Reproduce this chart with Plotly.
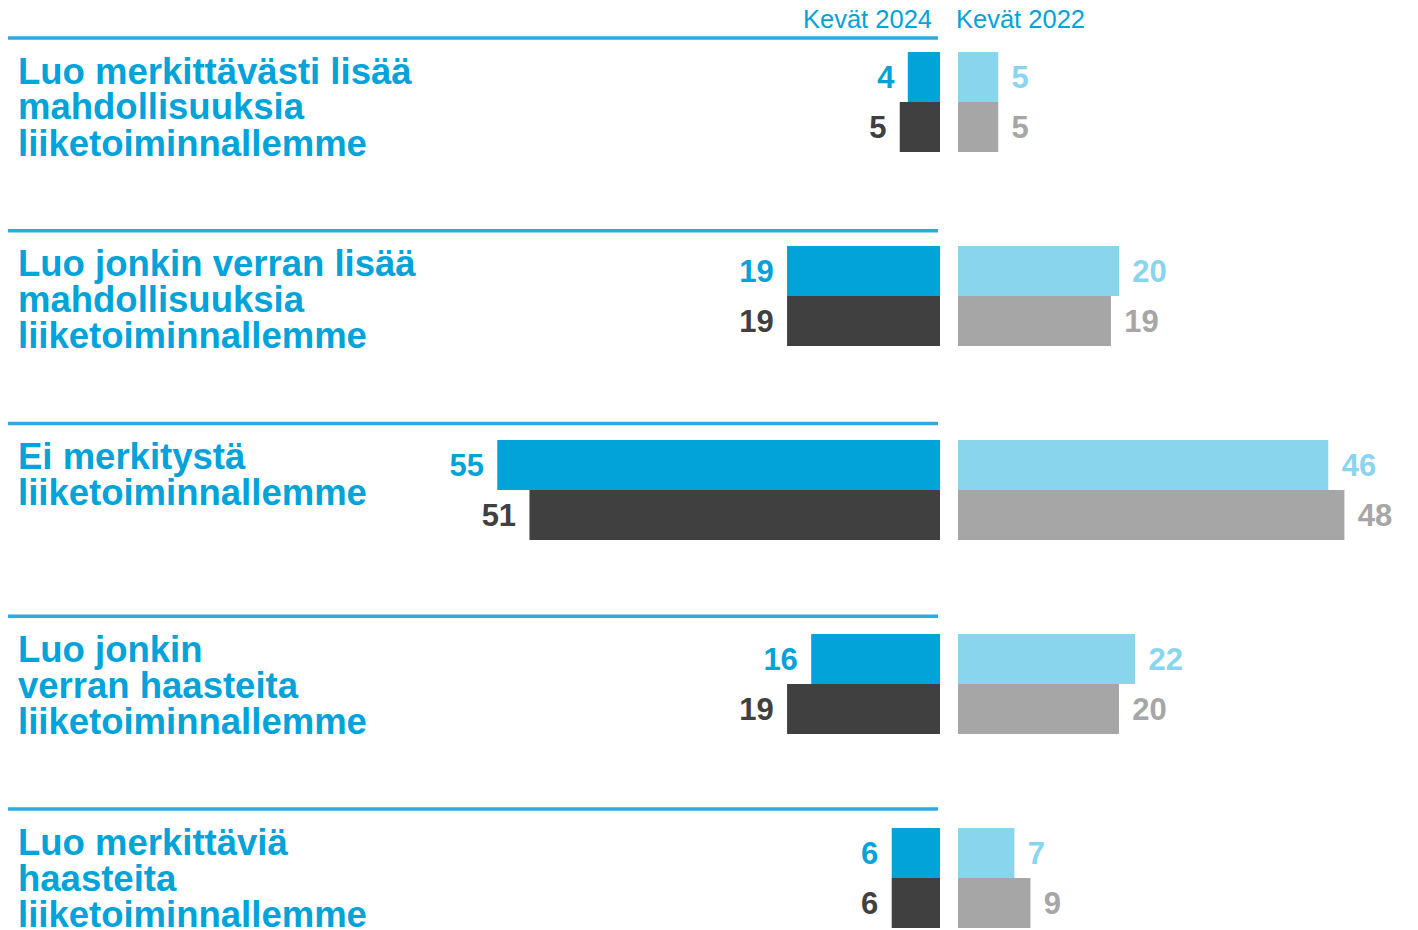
import plotly.graph_objects as go

# ---- data ----
categories = [
    "Luo merkittävästi lisää\nmahdollisuuksia\nliiketoiminnallemme",
    "Luo jonkin verran lisää\nmahdollisuuksia\nliiketoiminnallemme",
    "Ei merkitystä\nliiketoiminnallemme",
    "Luo jonkin\nverran haasteita\nliiketoiminnallemme",
    "Luo merkittäviä\nhaasteita\nliiketoiminnallemme",
]
panel_titles = ["Kevät 2024", "Kevät 2022"]
k2024_a = [4, 19, 55, 16, 6]     # blue
k2024_b = [5, 19, 51, 19, 6]     # dark grey
k2022_a = [5, 20, 46, 22, 7]     # light blue
k2022_b = [5, 19, 48, 20, 9]     # light grey

# ---- style ----
OFF = 8                      # page body margin
W, H = 1418 - OFF, 930 - OFF
BLUE = "#02A3D9"
DARK = "#404040"
LBLUE = "#8AD5EE"
LGREY = "#A6A6A6"
LINE = "#2FAAE0"
PX_PER_UNIT = 8.05
LEFT_ZERO = 940 - OFF
RIGHT_ZERO = 958 - OFF
GROUP_CENTER0 = 102 - OFF
GROUP_STEP = 194
LINE0 = 38 - OFF
LINE_STEP = 192.75

idx = list(range(len(categories)))
ymin = -GROUP_CENTER0 / GROUP_STEP
ymax = (H - GROUP_CENTER0) / GROUP_STEP

FONT = "Liberation Sans, Arial, sans-serif"
val_font = dict(family=FONT, size=31, weight="bold")

fig = go.Figure()

def bar(vals, color, xa, ya, left):
    tmpl = "%{x}\u2004" if left else "\u2004%{x}"
    return go.Bar(
        x=vals, y=idx, orientation="h", xaxis=xa, yaxis=ya,
        marker=dict(color=color, line=dict(width=0)),
        text=vals, texttemplate=tmpl, textposition="outside",
        textfont=dict(color=color, **val_font),
        cliponaxis=False, constraintext="none", showlegend=False,
        hoverinfo="skip",
    )

fig.add_trace(bar(k2024_a, BLUE, "x", "y", True))
fig.add_trace(bar(k2024_b, DARK, "x", "y", True))
fig.add_trace(bar(k2022_a, LBLUE, "x2", "y2", False))
fig.add_trace(bar(k2022_b, LGREY, "x2", "y2", False))

yax = dict(range=[ymax, ymin], visible=False, fixedrange=True)
fig.update_layout(
    width=W, height=H,
    margin=dict(l=0, r=0, t=0, b=0),
    paper_bgcolor="white", plot_bgcolor="white",
    barmode="group", bargap=1 - 100 / GROUP_STEP, bargroupgap=0,
    xaxis=dict(domain=[0, LEFT_ZERO / W], range=[LEFT_ZERO / PX_PER_UNIT, 0],
               visible=False, fixedrange=True, anchor="y"),
    xaxis2=dict(domain=[RIGHT_ZERO / W, 1], range=[0, (W - RIGHT_ZERO) / PX_PER_UNIT],
                visible=False, fixedrange=True, anchor="y2"),
    yaxis=dict(**yax, anchor="x"),
    yaxis2=dict(**yax, anchor="x2"),
)

# separator lines above each group
shapes = []
for i in idx:
    yp = 1 - (LINE0 + LINE_STEP * i) / H
    shapes.append(dict(type="line", xref="paper", yref="paper",
                       x0=0, x1=(938 - OFF) / W, y0=yp, y1=yp,
                       line=dict(color=LINE, width=3.5)))
fig.update_layout(shapes=shapes)

# category labels, one annotation per line (tight line spacing)
anns = []
lab_font = dict(family=FONT, size=36.5, color=BLUE, weight="bold")
for i, cat in enumerate(categories):
    for k, line in enumerate(cat.split("\n")):
        yp = 1 - (LINE0 + LINE_STEP * i + 33 + 36 * k) / H
        anns.append(dict(text=line, xref="paper", yref="paper", x=(16 - OFF) / W, y=yp,
                         xanchor="left", yanchor="middle", showarrow=False,
                         font=lab_font))

# panel titles
title_font = dict(family=FONT, size=25.5, color=BLUE)
for t, cx in zip(panel_titles, [867 - OFF, 1020 - OFF]):
    anns.append(dict(text=t, xref="paper", yref="paper", x=cx / W, y=1 - (19 - OFF) / H,
                     xanchor="center", yanchor="middle", showarrow=False, font=title_font))
fig.update_layout(annotations=anns)

fig.write_html("out.html")
